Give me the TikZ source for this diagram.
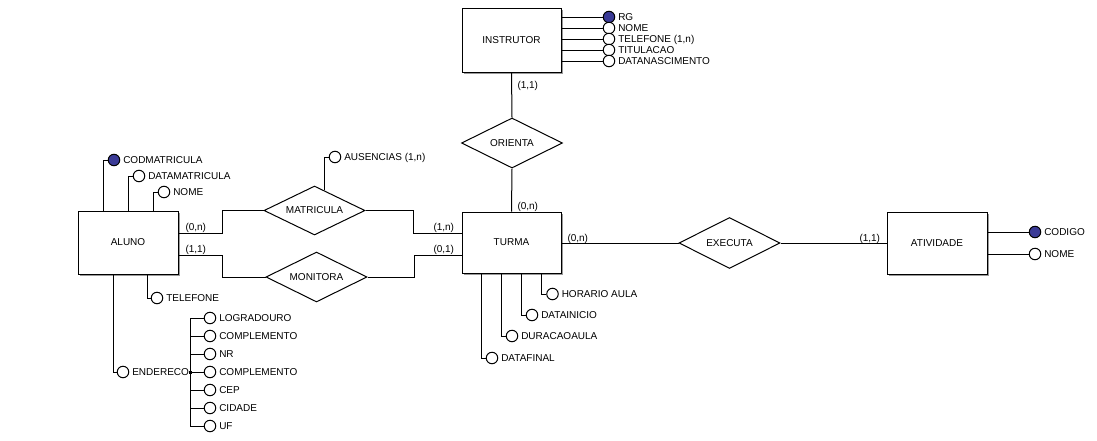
\documentclass[tikz,border=0pt]{standalone}
\usepackage{fontspec}
\setmainfont{Liberation Sans}
\usetikzlibrary{shapes.geometric,shadows,calc}
\begin{document}
\begin{tikzpicture}[x=1pt,y=-1pt,line width=1pt,
  every node/.style={font=\fontsize{10}{12}\selectfont},
  ent/.style={draw, fill=white, inner sep=0pt, minimum width=100pt, minimum height=62pt,
    drop shadow={shadow xshift=2pt, shadow yshift=-2pt, fill=black!40, opacity=1}},
  rel/.style={draw, fill=white, shape=diamond, shape aspect=2, inner sep=0pt,
    minimum width=101pt, minimum height=50pt},
  attr/.style={draw, fill=white, circle, inner sep=0pt, minimum size=11.5pt,
    label={[lbl]east:#1}},
  key/.style={attr=#1, fill=keyblue},
  lbl/.style={inner sep=1pt, label distance=1.5pt, text height=7.3pt, text depth=0pt},
  card/.style={anchor=west, inner sep=0pt, text height=7.3pt, text depth=0pt},
  junc/.style={fill=black, inner sep=0pt, minimum size=3pt}
]
\definecolor{keyblue}{RGB}{58,58,150}
\useasboundingbox (0,0) rectangle (1097,440);

% entities
\node[ent, minimum width=99pt, minimum height=64pt] (INS) at (511.5,40) {INSTRUTOR};
\node[ent, minimum width=99pt, minimum height=61pt] (TUR) at (511.5,242.5) {TURMA};
\node[ent, minimum height=63pt] (ALU) at (128,242.5) {ALUNO};
\node[ent] (ATI) at (937,243) {ATIVIDADE};

% relationships
\node[rel] (ORI) at (512,143) {ORIENTA};
\node[rel, minimum height=49pt] (MAT) at (314.5,210.5) {MATRICULA};
\node[rel] (MON) at (316.5,277) {MONITORA};
\node[rel, minimum height=51pt] (EXE) at (729.5,243) {EXECUTA};

% relationship connectors
\draw (INS.south) -- (ORI.north);
\draw (ORI.south) -- (TUR.north);
\draw (EXE.west) -- (EXE.west -| TUR.east);
\draw (EXE.east) -- (EXE.east -| ATI.west);
\draw ([yshift=9.5pt]ALU.east) -- ++(44,0) |- (MAT.west);
\draw (MAT.east) -- ++(48,0) |- ([yshift=9.5pt]TUR.west);
\draw ([yshift=-12.5pt]ALU.east) -- ++(44,0) |- (MON.west);
\draw (MON.east) -- ++(47,0) |- ([yshift=-13pt]TUR.west);

% cardinalities
\node[card] (c1) at (517,85) {(1,1)};
\node[card] (c2) at (517,206) {(0,n)};
\node[card] (c3) at (185,227) {(0,n)};
\node[card] (c4) at (185,249) {(1,1)};
\node[card] (c5) at (433,227) {(1,n)};
\node[card] (c6) at (433,249) {(0,1)};
\node[card] (c7) at (567,238) {(0,n)};
\node[card] (c8) at (859,238) {(1,1)};

% INSTRUTOR attributes
\node[key=RG] (i1) at (609,17) {};
\node[attr=NOME] (i2) at (609,28) {};
\node[attr={TELEFONE (1,n)}] (i3) at (609,39) {};
\node[attr=TITULACAO] (i4) at (609,50) {};
\node[attr=DATANASCIMENTO] (i5) at (609,61) {};
\foreach \a in {i1,i2,i3,i4,i5} \draw (\a.west) -- (\a.west -| INS.east);

% ALUNO attributes
\node[key=CODMATRICULA] (a1) at (114,160) {};
\node[attr=DATAMATRICULA] (a2) at (139,176) {};
\node[attr=NOME] (a3) at (164,192) {};
\draw (a1.west) -| ([xshift=-25pt]ALU.north);
\draw (a2.west) -| (ALU.north);
\draw (a3.west) -| ([xshift=25pt]ALU.north);
\node[attr=TELEFONE] (a4) at (157,298) {};
\draw (a4.west) -| ([xshift=19pt]ALU.south);
\node[attr=ENDERECO] (a5) at (123,372) {};
\draw (a5.west) -| ([xshift=-15pt]ALU.south);
\node[junc] (j) at (190.5,372) {};
\node[attr=LOGRADOURO] (e1) at (210,318) {};
\node[attr=COMPLEMENTO] (e2) at (210,336) {};
\node[attr=NR] (e3) at (210,354) {};
\node[attr=COMPLEMENTO] (e4) at (210,372) {};
\node[attr=CEP] (e5) at (210,390) {};
\node[attr=CIDADE] (e6) at (210,408) {};
\node[attr=UF] (e7) at (210,426) {};
\foreach \e in {e1,e2,e3,e4,e5,e6,e7} \draw (\e.west) -| (j.center);

% MATRICULA attribute
\node[attr={AUSENCIAS (1,n)}] (m1) at (335,157) {};
\draw (m1.west) -| ($(MAT.north)!0.19!(MAT.east)$);

% TURMA attributes
\node[attr=HORARIO AULA] (t1) at (552.5,294) {};
\node[attr=DATAINICIO] (t2) at (532,315) {};
\node[attr=DURACAOAULA] (t3) at (512,336) {};
\node[attr=DATAFINAL] (t4) at (492,358) {};
\draw (t1.west) -| ([xshift=29.5pt]TUR.south);
\draw (t2.west) -| ([xshift=10pt]TUR.south);
\draw (t3.west) -| ([xshift=-10pt]TUR.south);
\draw (t4.west) -| ([xshift=-30pt]TUR.south);

% ATIVIDADE attributes
\node[key=CODIGO] (x1) at (1035,232) {};
\node[attr=NOME] (x2) at (1035,254) {};
\draw (x1.west) -- (x1.west -| ATI.east);
\draw (x2.west) -- (x2.west -| ATI.east);
\end{tikzpicture}
\end{document}
